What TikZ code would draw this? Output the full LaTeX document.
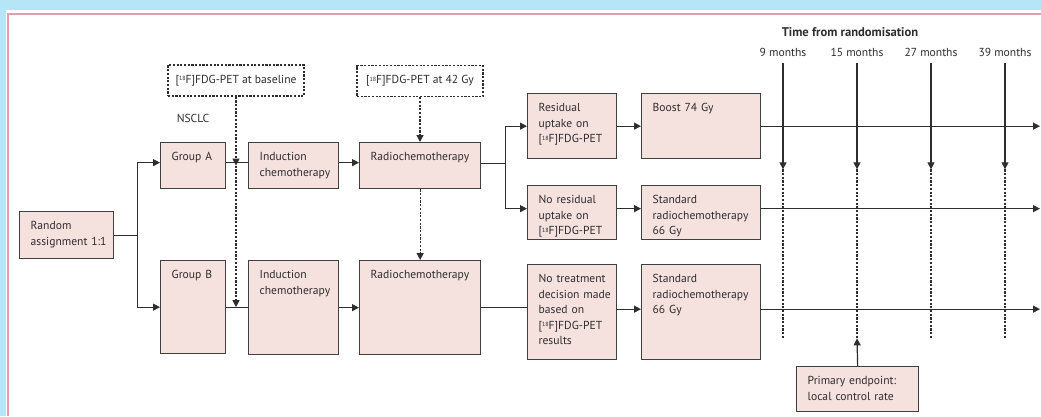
\documentclass[tikz,border=0pt]{standalone}
\usepackage{fontspec}
\setmainfont{PT Sans}
\usepackage{xcolor}
\usetikzlibrary{arrows.meta}

\definecolor{boxfill}{HTML}{F5E1DE}
\definecolor{boxline}{HTML}{404040}
\definecolor{linec}{HTML}{2E2E2E}
\definecolor{txt}{HTML}{2E2E2E}
\definecolor{bandblue}{HTML}{B5E6F7}
\definecolor{framepink}{HTML}{E89AAE}

\tikzset{
	box/.style={draw=boxline, fill=boxfill, line width=1.3pt, anchor=north west, align=left,
		inner xsep=11pt, inner ysep=6pt, text height=12pt, text=txt},
	dims/.style 2 args={text width=#1pt, text depth=#2pt},
	petbox/.style={draw=linec, line width=1.2pt, dash pattern=on 2.2pt off 1.5pt,
		minimum height=31pt, inner sep=0pt, text=txt},
	arr/.style={draw=linec, line width=1.2pt, -{Triangle[width=7pt,length=7pt]}},
	conn/.style={draw=linec, line width=1.2pt},
	dasharr/.style={arr, dash pattern=on 2.2pt off 1.5pt},
	lbl/.style={text=txt, inner sep=0pt}
}

\newcommand{\pet}{[\raisebox{0.45ex}{\fontsize{6}{6}\selectfont 18}F]FDG-PET}

\begin{document}
\begin{tikzpicture}[x=1pt, y=-1pt, font=\fontsize{11.6}{15.5}\selectfont]
	\useasboundingbox (0,0) rectangle (1041,416);
	\fill[white] (0,0) rectangle (1041,416);
	% page edges
	\fill[bandblue] (0,0) rectangle (1041,10);
	\fill[bandblue] (0,0) rectangle (6,416);
	\draw[framepink, line width=1.4pt] (1041,14) -- (8,14) -- (8,416);

	% left part
	\node[box, dims={72}{23}] (rand) at (19,211) {Random\\assignment~1:1};
	\node[box, dims={43}{22}] (grpA) at (160,142) {Group~A};
	\node[box, dims={43}{69}] (grpB) at (160,260) {Group~B};
	\node[box, dims={68}{22}] (indA) at (248,142) {Induction\\chemotherapy};
	\node[box, dims={68}{70}] (indB) at (248,260) {Induction\\chemotherapy};
	\node[box, dims={99}{22}] (rcA) at (359,142) {Radiochemotherapy};
	\node[box, dims={99}{70}] (rcB) at (359,260) {Radiochemotherapy};

	\node[lbl] (nsclc) at (193,118) {NSCLC};
	\node[petbox, minimum width=136pt] (petBase) at (236,80.5) {\pet{} at baseline};
	\node[petbox, minimum width=126pt] (pet42) at (420,81) {\pet{} at 42 Gy};

	% right part
	\node[box, dims={67}{41}] (resid) at (527,93) {Residual\\uptake~on\\\pet};
	\node[box, dims={97}{41}] (boost) at (641,93) {Boost~74~Gy};
	\node[box, dims={67}{30}] (noresid) at (527,185) {No~residual\\uptake~on\\\pet};
	\node[box, dims={97}{30}] (stdA) at (641,185) {Standard\\radiochemotherapy\\66~Gy};
	\node[box, dims={67}{71}] (notreat) at (527,264) {No~treatment\\decision~made\\based~on\\\pet\\results};
	\node[box, dims={97}{71}] (stdB) at (641,264) {Standard\\radiochemotherapy\\66~Gy};
	\node[box, dims={100}{21}] (primary) at (796,366) {Primary~endpoint:\\local~control~rate};

	% connectors
	\draw[conn] (rand.east) -- ++(23,0) coordinate (split);
	\draw[arr] (split) |- ([yshift=3pt]grpA.west);
	\draw[arr] (split) |- (grpB.west);
	\draw[conn] ([yshift=3pt]grpA.east) -- ([yshift=3pt]indA.west);
	\draw[conn] (grpB.east) -- (grpB.east -| indB.west);
	\draw[arr] ([yshift=3pt]indA.east) -- ([yshift=3pt]indA.east -| rcA.west);
	\draw[arr] (indB.east) -- (indB.east -| rcB.west);
	\draw[conn] ([yshift=2pt]rcA.east) -- ++(24,0) coordinate (fork);
	\draw[arr] (fork) |- (resid.west);
	\draw[arr] (fork) |- ([yshift=4pt]noresid.west);
	\draw[conn] (rcB.east) -- (rcB.east -| notreat.west);
	\draw[arr] (resid.east) -- (boost.west);
	\draw[arr] ([yshift=4pt]noresid.east) -- ([yshift=4pt]stdA.west);
	\draw[arr] ([yshift=3pt]notreat.east) -- ([yshift=3pt]stdB.west);

	\draw[dasharr] (petBase.south) -- (petBase.south |- grpA.east) coordinate (onA);
	\draw[dasharr] (onA) -- (onA |- grpB.east);
	\draw[dasharr] (pet42.south) -- (pet42.south |- rcA.north);
	\draw[dasharr] (rcA.south) -- (rcB.north);

	% time axis
	\coordinate (edge) at (1040,0);
	\draw[arr] (boost.east) -- (boost.east -| edge);
	\draw[arr] ([yshift=4pt]stdA.east) -- ([yshift=4pt]stdA.east -| edge);
	\draw[arr] ([yshift=3pt]stdB.east) -- ([yshift=3pt]stdB.east -| edge);

	\node[lbl, font=\fontsize{12.6}{14}\selectfont\bfseries] (time) at (850,32) {Time from randomisation};
	\foreach \m/\x in {9/783, 15/857, 27/931, 39/1005} {
		\node[lbl, anchor=base] (m\m) at (\x,56) {\m{} months};
		\draw[arr] ([yshift=-7pt]m\m.south) -- ++(0,106) coordinate (t\m);
		\draw[conn, dash pattern=on 2.2pt off 1.5pt] (t\m) -- ++(0,169) coordinate (d\m);
	}
	\draw[arr] (primary.north) -- (d15);
\end{tikzpicture}
\end{document}
